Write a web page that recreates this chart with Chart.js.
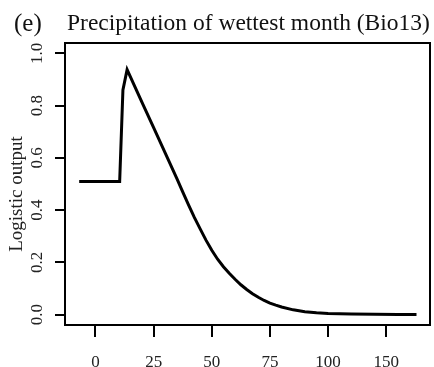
<!DOCTYPE html>
<html>
<head>
<meta charset="utf-8">
<script src="https://cdn.jsdelivr.net/npm/chart.js@4/dist/chart.umd.min.js"></script>
<style>
  html, body { margin: 0; padding: 0; background: #fff; }
  #wrap { width: 434px; height: 367px; }
</style>
</head>
<body>
<div id="wrap"><canvas id="chart" width="434" height="367"></canvas></div>
<script>
"use strict";

// Response curve
var precipValues = [-7, 10.4, 11.8, 13.6, 20, 25, 30, 35, 37.5, 40, 42.5, 45, 47.5, 50, 52.5, 55, 57.5, 60,
  62.5, 65, 67.5, 70, 72.5, 75, 77.5, 80, 85, 90, 95, 100, 110, 120, 130, 138];
var logisticValues = [0.51, 0.51, 0.86, 0.938, 0.813, 0.716, 0.618, 0.521, 0.47, 0.42, 0.372, 0.328, 0.285, 0.246,
  0.212, 0.183, 0.158, 0.135, 0.114, 0.096, 0.08, 0.066, 0.054, 0.044, 0.036, 0.029, 0.018, 0.011, 0.007,
  0.0045, 0.002, 0.001, 0.0006, 0.0004];

var xTickValues = [0, 25, 50, 75, 100, 125];
var xTickLabels = ["0", "25", "50", "75", "100", "150"];
var yTickValues = [0, 0.2, 0.4, 0.6, 0.8, 1.0];

var panelLetter = "(e)";
var chartTitle = "Precipitation of wettest month (Bio13)";
var yTitle = "Logistic output";

var serif = "'Liberation Serif', 'DejaVu Serif', serif";

var boxAndTitle = {
  id: "boxAndTitle",
  afterDraw: function(chart) {
    var ctx = chart.ctx;
    var area = chart.chartArea;
    ctx.save();
    ctx.strokeStyle = "#000";
    ctx.lineWidth = 2;
    ctx.strokeRect(area.left, area.top, area.right - area.left, area.bottom - area.top);
    ctx.fillStyle = "#111";
    ctx.textBaseline = "alphabetic";
    ctx.textAlign = "left";
    ctx.font = "25px " + serif;
    ctx.fillText(panelLetter, 14, 31);
    ctx.font = "23.5px " + serif;
    ctx.fillText(chartTitle, 67, 30);
    // y axis title
    ctx.fillStyle = "#222";
    ctx.font = "19px " + serif;
    ctx.textAlign = "center";
    ctx.textBaseline = "middle";
    ctx.translate(17, 194);
    ctx.rotate(-Math.PI / 2);
    ctx.fillText(yTitle, 0, 0);
    ctx.restore();
  }
};

function _points() {
  return precipValues.map(function(x, i) {
    return { x: x, y: logisticValues[i] };
  });
}

new Chart(document.getElementById("chart"), {
  type: "line",
  data: {
    datasets: [{
      data: _points(),
      borderColor: "#000",
      borderWidth: 3,
      pointRadius: 0,
      fill: false,
      tension: 0
    }]
  },
  options: {
    responsive: false,
    animation: false,
    events: [],
    layout: { padding: { top: 43, right: 4, left: 0, bottom: 0 } },
    plugins: { legend: { display: false }, tooltip: { enabled: false } },
    scales: {
      x: {
        type: "linear",
        min: -13.1,
        max: 143.8,
        afterFit: function(scale) { scale.height = 42; },
        afterBuildTicks: function(scale) {
          scale.ticks = xTickValues.map(function(v) { return { value: v }; });
        },
        ticks: {
          autoSkip: false,
          maxRotation: 0,
          padding: 15,
          color: "#222",
          font: { family: serif, size: 17 },
          callback: function(value) {
            var i = xTickValues.indexOf(value);
            return i >= 0 ? xTickLabels[i] : "";
          }
        },
        grid: { drawOnChartArea: false, tickLength: 12, color: "#000", lineWidth: 2 },
        border: { display: false }
      },
      y: {
        min: -0.04,
        max: 1.04,
        afterFit: function(scale) { scale.width = 65; },
        afterBuildTicks: function(scale) {
          scale.ticks = yTickValues.map(function(v) { return { value: v }; });
        },
        ticks: {
          autoSkip: false,
          minRotation: 90,
          maxRotation: 90,
          crossAlign: "center",
          padding: 7,
          color: "#222",
          font: { family: serif, size: 17 },
          callback: function(value) { return value.toFixed(1); }
        },
        grid: { drawOnChartArea: false, tickLength: 10, color: "#000", lineWidth: 2 },
        border: { display: false }
      }
    }
  },
  plugins: [boxAndTitle]
});
</script>
</body>
</html>
